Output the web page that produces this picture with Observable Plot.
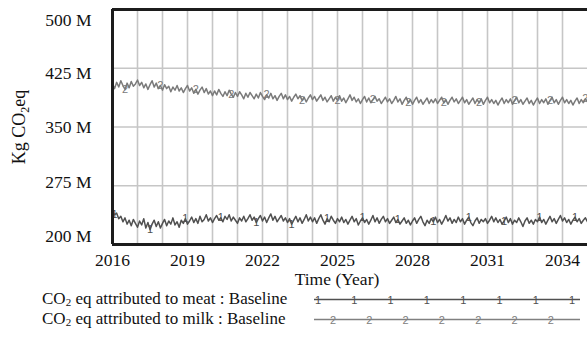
<!DOCTYPE html>
<html><head><meta charset="utf-8">
<script src="https://cdn.jsdelivr.net/npm/d3@7"></script>
<script src="https://cdn.jsdelivr.net/npm/@observablehq/plot@0.6"></script>
<style>
body{margin:0;background:#fff;font-family:"Liberation Serif","Times New Roman",serif;}
#wrap{position:relative;width:587px;height:337px;overflow:hidden;}
#legend{position:relative;height:47px;font-size:17px;color:#111;}
.row{position:absolute;left:42px;white-space:nowrap;line-height:16px;height:16px;}
.row sub{font-size:11px;vertical-align:-2px;line-height:0;}
.sample{position:absolute;left:314px;}
</style></head><body><div id="wrap"><div id="chart"></div><div id="legend"></div></div>
<script>
// Monthly values (million kg CO2 eq), Jan 2016 .. Jan 2035
const startYear = 2016;
const meat = [
243,238,240,233,236,229,234,226,231,224,232,227,
222,230,225,233,221,228,219,226,231,223,229,221,
227,232,224,230,226,234,225,229,222,231,227,233,
226,230,235,228,233,227,236,229,232,238,230,234,
228,233,237,231,234,229,236,232,238,230,235,231,
227,234,230,236,229,233,238,231,235,228,233,237,
230,235,228,234,239,231,236,229,233,237,230,234,
228,233,226,231,236,229,234,227,232,238,230,235,
229,234,227,233,238,231,226,233,229,236,231,227,
233,229,235,228,232,226,231,236,229,233,225,230,
234,228,232,226,231,237,229,234,227,232,236,229,
233,227,231,235,228,232,226,230,234,227,231,225,
230,234,227,232,236,229,224,231,227,233,229,235,
228,232,226,231,237,230,234,227,232,228,235,229,
233,226,231,235,228,224,230,234,227,232,229,233,
227,231,236,229,234,228,232,226,230,235,228,233,
226,231,228,234,229,223,230,234,227,231,226,232,
229,235,228,232,226,231,236,229,233,227,232,237,
230,234,228,232,226,231,235,229,233,227,231,234,
229];
const milk = [
405,399,407,401,409,403,398,406,400,408,402,405,
410,403,407,400,405,398,404,409,401,406,399,403,
397,404,399,402,395,401,397,403,396,400,394,399,
403,396,400,393,398,392,397,401,394,399,392,396,
390,396,391,398,393,389,395,390,397,392,388,394,
389,395,391,386,393,388,394,390,386,392,387,394,
389,385,391,387,393,386,390,384,389,393,386,391,
385,389,383,388,392,386,390,384,388,382,387,391,
385,389,383,387,391,384,388,382,386,390,383,388,
384,390,383,387,381,386,391,384,388,382,386,380,
385,389,382,387,381,385,389,383,386,380,384,388,
382,386,380,384,389,382,386,379,384,388,381,385,
379,384,388,381,385,379,383,387,380,385,381,386,
380,384,388,381,385,379,384,388,382,386,380,384,
388,381,385,379,383,387,380,385,381,386,379,384,
388,381,385,380,384,378,383,387,380,385,381,386,
379,384,388,381,385,379,383,387,380,384,378,383,
387,380,385,381,386,379,384,388,381,385,379,384,
388,381,385,380,384,378,383,387,380,385,381,386,
382];
const xTicks = [2016, 2019, 2022, 2025, 2028, 2031, 2034];
const yTicks = [200, 275, 350, 425, 500];
const gridYears = d3.range(2017, 2035);
const gridValues = [275, 350, 425];
const seriesNames = ["meat", "milk"];

const meatColor = "#505050", milkColor = "#7a7a7a";
const toRows = arr => arr.map((v, i) => ({t: startYear + i / 12, v}));
const meatRows = toRows(meat), milkRows = toRows(milk);
const meatMarks = meatRows.filter((d, i) => i % 17 === 1);
const milkMarks = milkRows.filter((d, i) => i % 17 === 6);
const yLabelDy = [-8.5, -3, 0.5, 5, 11];

const chart = Plot.plot({
  width: 587, height: 290,
  marginLeft: 112, marginRight: 0, marginTop: 9, marginBottom: 46,
  style: {fontFamily: "'Liberation Serif','Times New Roman',serif", fontSize: "17.5px", background: "#fff", color: "#111", overflow: "visible"},
  x: {domain: [2016, 2035], label: null},
  y: {domain: [200, 500], label: null},
  marks: [
    Plot.gridX(gridYears, {stroke: "#c6c6c6", strokeOpacity: 1, strokeWidth: 1.6}),
    Plot.gridY(gridValues, {stroke: "#c6c6c6", strokeOpacity: 1, strokeWidth: 1.6}),
    Plot.line(milkRows, {x: "t", y: "v", stroke: milkColor, strokeWidth: 1.5}),
    Plot.line(meatRows, {x: "t", y: "v", stroke: meatColor, strokeWidth: 1.5}),
    Plot.text(milkMarks, {x: "t", y: "v", text: () => "2", fill: milkColor, fontSize: 11, fontFamily: "'Liberation Sans',sans-serif"}),
    Plot.text(meatMarks, {x: "t", y: "v", text: () => "1", fill: meatColor, fontSize: 11, fontFamily: "'Liberation Sans',sans-serif"}),
    Plot.ruleX([2016], {stroke: "#1c1c1c", strokeWidth: 3}),
    Plot.ruleY([200, 500], {stroke: "#1c1c1c", strokeWidth: 3}),
    Plot.axisX(xTicks, {tickSize: 0, tickPadding: 9, tickFormat: d => String(d), label: null}),
    ...yTicks.map((v, i) => Plot.axisY([v], {tickSize: 0, tickPadding: 21, dy: yLabelDy[i], tickFormat: d => d + " M", label: null}))
  ]
});
document.getElementById("chart").appendChild(chart);

// axis titles
const svg = d3.select(chart);
const yt = svg.append("text")
  .attr("transform", "translate(25,127) rotate(-90)")
  .attr("text-anchor", "middle")
  .style("font-size", "18px").attr("fill", "#111");
yt.append("tspan").text("Kg CO");
yt.append("tspan").text("2").style("font-size", "12px").attr("dy", 4);
yt.append("tspan").text("eq").attr("dy", -4);
svg.append("text").attr("x", 337).attr("y", 285).attr("text-anchor", "middle")
  .style("font-size", "17.5px").attr("fill", "#111").text("Time (Year)");

// legend
const legend = d3.select("#legend");
const legendColors = [meatColor, "#808080"];
const markerX = [d3.range(8).map(k => 4 + 36.3 * k), d3.range(7).map(k => 19 + 36.3 * k)];
seriesNames.forEach((name, i) => {
  const top = 1 + i * 20;
  legend.append("div").attr("class", "row").style("top", top + "px")
    .html(`CO<sub>2</sub> eq attributed to ${name} : Baseline`);
  const s = legend.append("svg").attr("class", "sample").attr("width", 266).attr("height", 16)
    .style("top", top + "px");
  s.append("line").attr("x1", 0).attr("x2", 266).attr("y1", 8.5).attr("y2", 8.5)
    .attr("stroke", legendColors[i]).attr("stroke-width", 1.3);
  markerX[i].forEach(x => s.append("text").attr("x", x).attr("y", 12.5).attr("text-anchor", "middle")
    .style("font", "11px 'Liberation Sans',sans-serif").attr("fill", legendColors[i]).text(String(i + 1)));
});
</script></body></html>
